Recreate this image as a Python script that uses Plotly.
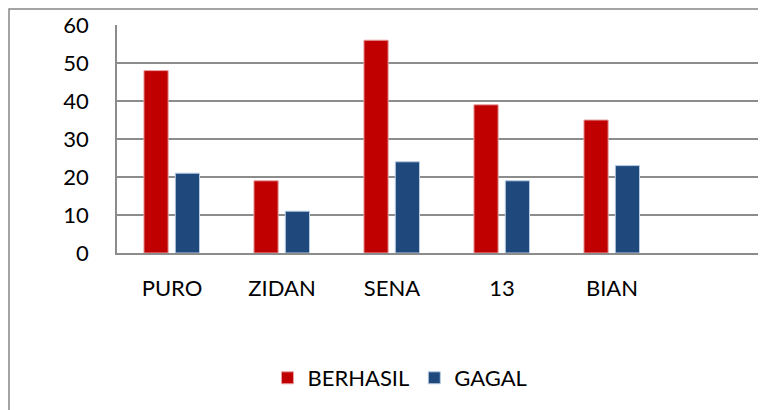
import plotly.graph_objects as go

categories = ["PURO", "ZIDAN", "SENA", "13", "BIAN"]
berhasil = [48, 19, 56, 39, 35]
gagal = [21, 11, 24, 19, 23]
y_ticks = [0, 10, 20, 30, 40, 50, 60]

# page has an 8px body margin, so the figure is offset by 8px
OFF = 8
W, H = 766 - OFF, 410 - OFF
L, T = 117 - OFF, 25 - OFF
B = H - (253 - OFF)
pw, ph = W - L, H - T - B

FONT = "Lato"
FS = 22

fig = go.Figure()
fig.add_trace(go.Bar(
    x=categories, y=berhasil, name="BERHASIL",
    marker=dict(color="#C00000", line=dict(color="#E8A0A0", width=1)),
    width=0.22, offset=-0.255,
))
fig.add_trace(go.Bar(
    x=categories, y=gagal, name="GAGAL",
    marker=dict(color="#1F497D", line=dict(color="#B8CCE4", width=1)),
    width=0.22, offset=0.03,
))

# outer chart border
fig.add_shape(type="rect", xref="paper", yref="paper",
              x0=(9 - OFF - L) / pw, x1=1.05,
              y0=-(B + 20) / ph, y1=(H - B - (9 - OFF)) / ph,
              line=dict(color="#868686", width=1.5), layer="below")

fig.update_layout(
    width=W, height=H,
    margin=dict(l=L, r=0, t=T, b=B),
    paper_bgcolor="white", plot_bgcolor="white",
    barmode="group",
    showlegend=True,
    legend=dict(orientation="h", xref="container", yref="container",
                x=(400 - OFF) / W, y=1 - (378 - OFF) / H,
                xanchor="center", yanchor="middle",
                font=dict(family=FONT, size=FS, color="#000000"),
                itemwidth=30, traceorder="normal"),
    font=dict(family=FONT, size=FS, color="#000000"),
)
fig.update_xaxes(
    type="category", range=[-0.5, 5.4],
    showgrid=False, showline=True, linecolor="#8c8c8c", linewidth=1.5,
    ticks="", ticklabelstandoff=15,
    tickfont=dict(family=FONT, size=FS, color="#000000"),
)
fig.update_yaxes(
    range=[0, 60], tickvals=y_ticks,
    showgrid=True, gridcolor="#8c8c8c", gridwidth=1.5,
    showline=True, linecolor="#8c8c8c", linewidth=1.5,
    zeroline=False, ticks="", ticklabelstandoff=22,
    tickfont=dict(family=FONT, size=FS, color="#000000"),
)

fig.write_html("out.html")
